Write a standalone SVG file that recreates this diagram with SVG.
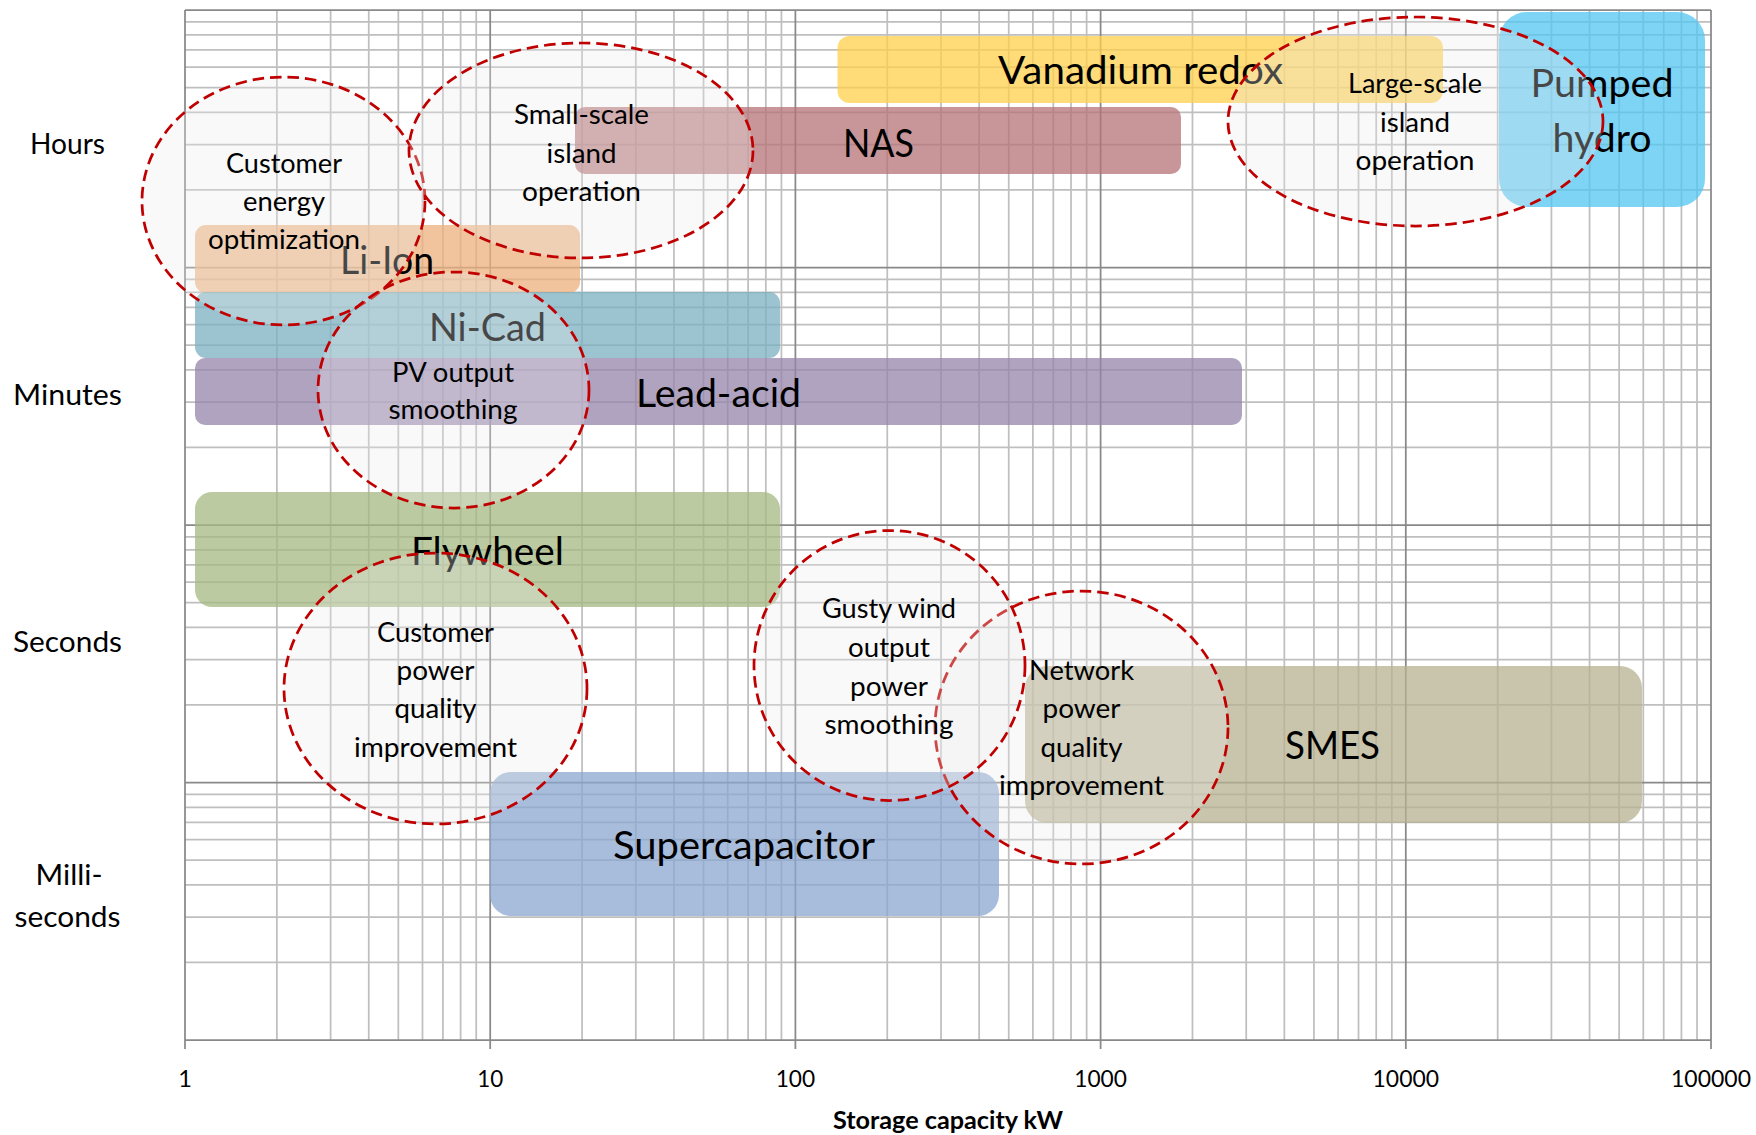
<svg xmlns="http://www.w3.org/2000/svg" width="1756" height="1135" viewBox="0 0 1756 1135">
<style>
.minor{fill:none;stroke:#bfbfbf;stroke-width:1.75}
.major{fill:none;stroke:#898989;stroke-width:1.75}
.bar{opacity:0.75}
text{font-family:Lato,"Liberation Sans",Arial,sans-serif;fill:#000;text-anchor:middle}
.blab{font-size:38px}
.ell{fill:#ececec;fill-opacity:0.3;stroke:#c00000;stroke-width:2.75;stroke-dasharray:11.5 6}
.elab{font-size:26px}
.axl{font-size:29px}
.tick{font-size:23.5px}
.title{font-size:24.5px;font-weight:bold}
</style>
<rect width="1756" height="1135" fill="#fff"/>
<g id="grid">
<path class="minor" d="M276.87 10V1040M330.62 10V1040M368.75 10V1040M398.33 10V1040M422.49 10V1040M442.92 10V1040M460.62 10V1040M476.23 10V1040
M582.07 10V1040M635.82 10V1040M673.95 10V1040M703.53 10V1040M727.69 10V1040M748.12 10V1040M765.82 10V1040M781.43 10V1040
M887.27 10V1040M941.02 10V1040M979.15 10V1040M1008.73 10V1040M1032.89 10V1040M1053.32 10V1040M1071.02 10V1040M1086.63 10V1040
M1192.47 10V1040M1246.22 10V1040M1284.35 10V1040M1313.93 10V1040M1338.09 10V1040M1358.52 10V1040M1376.22 10V1040M1391.83 10V1040
M1497.67 10V1040M1551.42 10V1040M1589.55 10V1040M1619.13 10V1040M1643.29 10V1040M1663.72 10V1040M1681.42 10V1040M1697.03 10V1040
M185 962.48H1711M185 917.14H1711M185 884.97H1711M185 860.01H1711M185 839.63H1711M185 822.39H1711M185 807.45H1711M185 794.28H1711
M185 704.98H1711M185 659.64H1711M185 627.47H1711M185 602.51H1711M185 582.13H1711M185 564.89H1711M185 549.95H1711M185 536.78H1711
M185 447.48H1711M185 402.14H1711M185 369.97H1711M185 345.01H1711M185 324.63H1711M185 307.39H1711M185 292.45H1711M185 279.28H1711
M185 189.98H1711M185 144.64H1711M185 112.47H1711M185 87.51H1711M185 67.13H1711M185 49.89H1711M185 34.95H1711M185 21.78H1711"/>
<path class="major" d="M185 10V1049M490.2 10V1049M795.4 10V1049M1100.6 10V1049M1405.8 10V1049M1711 10V1049
M185 10H1711M185 267.5H1711M185 525H1711M185 782.5H1711M185 1040H1711"/>
</g>
<g id="axis-labels">
<text class="axl" x="67.5" y="154" textLength="75" lengthAdjust="spacingAndGlyphs">Hours</text>
<text class="axl" x="67.5" y="405" textLength="109" lengthAdjust="spacingAndGlyphs">Minutes</text>
<text class="axl" x="67.5" y="652" textLength="109" lengthAdjust="spacingAndGlyphs">Seconds</text>
<text class="axl" x="69" y="885" textLength="67" lengthAdjust="spacingAndGlyphs">Milli-</text>
<text class="axl" x="67.5" y="927" textLength="106" lengthAdjust="spacingAndGlyphs">seconds</text>
<text class="tick" x="185" y="1087">1</text>
<text class="tick" x="490.2" y="1087" textLength="26" lengthAdjust="spacingAndGlyphs">10</text>
<text class="tick" x="795.4" y="1087" textLength="39.5" lengthAdjust="spacingAndGlyphs">100</text>
<text class="tick" x="1100.6" y="1087" textLength="52.7" lengthAdjust="spacingAndGlyphs">1000</text>
<text class="tick" x="1405.8" y="1087" textLength="66.5" lengthAdjust="spacingAndGlyphs">10000</text>
<text class="tick" x="1711" y="1087" textLength="80" lengthAdjust="spacingAndGlyphs">100000</text>
<text class="title" x="948" y="1129" textLength="230" lengthAdjust="spacingAndGlyphs">Storage capacity kW</text>
</g>
<g id="bars">
<g id="vanadium-redox"><rect class="bar" x="837.5" y="36" width="605.5" height="67" rx="12" fill="#ffd04b"/><text class="blab" x="1140.5" y="84" textLength="285" lengthAdjust="spacingAndGlyphs">Vanadium redox</text></g>
<g id="nas"><rect class="bar" x="575" y="107" width="606" height="67" rx="10" fill="#b67376"/><text class="blab" x="878.5" y="157" textLength="71" lengthAdjust="spacingAndGlyphs">NAS</text></g>
<g id="li-ion"><rect class="bar" x="195" y="225" width="385" height="68" rx="11" fill="#ecb07e"/><text class="blab" x="387" y="274" textLength="94" lengthAdjust="spacingAndGlyphs">Li-Ion</text></g>
<g id="ni-cad"><rect class="bar" x="195" y="292" width="585" height="66" rx="11" fill="#7aafc0"/><text class="blab" x="487.5" y="341" textLength="117" lengthAdjust="spacingAndGlyphs">Ni-Cad</text></g>
<g id="lead-acid"><rect class="bar" x="195" y="358" width="1047" height="67" rx="10" fill="#9684ab"/><text class="blab" x="718.5" y="407" textLength="165" lengthAdjust="spacingAndGlyphs">Lead-acid</text></g>
<g id="flywheel"><rect class="bar" x="195" y="492" width="585" height="115" rx="17" fill="#a4b880"/><text class="blab" x="487.5" y="565" textLength="153" lengthAdjust="spacingAndGlyphs">Flywheel</text></g>
<g id="smes"><rect class="bar" x="1025" y="666" width="617" height="157" rx="22" fill="#b7b090"/><text class="blab" x="1332.5" y="759" textLength="95" lengthAdjust="spacingAndGlyphs">SMES</text></g>
<g id="supercapacitor"><rect class="bar" x="490" y="772" width="509" height="144" rx="21" fill="#8ba7d0"/><text class="blab" x="744" y="859" textLength="262" lengthAdjust="spacingAndGlyphs">Supercapacitor</text></g>
<g id="pumped-hydro"><rect class="bar" x="1499" y="12" width="206" height="195" rx="28" fill="#52c6f2"/><text class="blab" x="1602" y="97" textLength="143" lengthAdjust="spacingAndGlyphs">Pumped</text><text class="blab" x="1602" y="152" textLength="99" lengthAdjust="spacingAndGlyphs">hydro</text></g>
</g>
<g id="connectors"></g>
<g id="applications">
<g id="customer-energy-optimization"><ellipse class="ell" cx="283.5" cy="201" rx="141.5" ry="124"/><text class="elab" x="284" y="173" textLength="116" lengthAdjust="spacingAndGlyphs">Customer</text><text class="elab" x="284" y="211" textLength="82" lengthAdjust="spacingAndGlyphs">energy</text><text class="elab" x="284" y="249" textLength="152" lengthAdjust="spacingAndGlyphs">optimization</text></g>
<g id="small-scale-island-operation"><ellipse class="ell" cx="581" cy="150.5" rx="172" ry="107.5"/><text class="elab" x="581.5" y="124" textLength="135" lengthAdjust="spacingAndGlyphs">Small-scale</text><text class="elab" x="581.5" y="163" textLength="70" lengthAdjust="spacingAndGlyphs">island</text><text class="elab" x="581.5" y="201" textLength="119" lengthAdjust="spacingAndGlyphs">operation</text></g>
<g id="large-scale-island-operation"><ellipse class="ell" cx="1415.5" cy="121.5" rx="187.5" ry="104.5"/><text class="elab" x="1415" y="93" textLength="134" lengthAdjust="spacingAndGlyphs">Large-scale</text><text class="elab" x="1415" y="132" textLength="70" lengthAdjust="spacingAndGlyphs">island</text><text class="elab" x="1415" y="170" textLength="119" lengthAdjust="spacingAndGlyphs">operation</text></g>
<g id="pv-output-smoothing"><ellipse class="ell" cx="453.5" cy="390" rx="135.5" ry="118"/><text class="elab" x="453" y="382" textLength="122" lengthAdjust="spacingAndGlyphs">PV output</text><text class="elab" x="453" y="419" textLength="129" lengthAdjust="spacingAndGlyphs">smoothing</text></g>
<g id="customer-power-quality-improvement"><ellipse class="ell" cx="435.5" cy="688.5" rx="151.5" ry="135.5"/><text class="elab" x="435.5" y="642" textLength="117" lengthAdjust="spacingAndGlyphs">Customer</text><text class="elab" x="435.5" y="680" textLength="78" lengthAdjust="spacingAndGlyphs">power</text><text class="elab" x="435.5" y="718" textLength="82" lengthAdjust="spacingAndGlyphs">quality</text><text class="elab" x="435.5" y="757" textLength="163" lengthAdjust="spacingAndGlyphs">improvement</text></g>
<g id="network-power-quality-improvement"><ellipse class="ell" cx="1081.5" cy="727.5" rx="146.5" ry="136.5"/><text class="elab" x="1081.5" y="680" textLength="105" lengthAdjust="spacingAndGlyphs">Network</text><text class="elab" x="1081.5" y="718" textLength="78" lengthAdjust="spacingAndGlyphs">power</text><text class="elab" x="1081.5" y="757" textLength="82" lengthAdjust="spacingAndGlyphs">quality</text><text class="elab" x="1081.5" y="795" textLength="165" lengthAdjust="spacingAndGlyphs">improvement</text></g>
<g id="gusty-wind-output-power-smoothing"><ellipse class="ell" cx="889.5" cy="665.5" rx="135.5" ry="135"/><text class="elab" x="889" y="618" textLength="134" lengthAdjust="spacingAndGlyphs">Gusty wind</text><text class="elab" x="889" y="657" textLength="82" lengthAdjust="spacingAndGlyphs">output</text><text class="elab" x="889" y="696" textLength="78" lengthAdjust="spacingAndGlyphs">power</text><text class="elab" x="889" y="734" textLength="129" lengthAdjust="spacingAndGlyphs">smoothing</text></g>
</g>
</svg>
